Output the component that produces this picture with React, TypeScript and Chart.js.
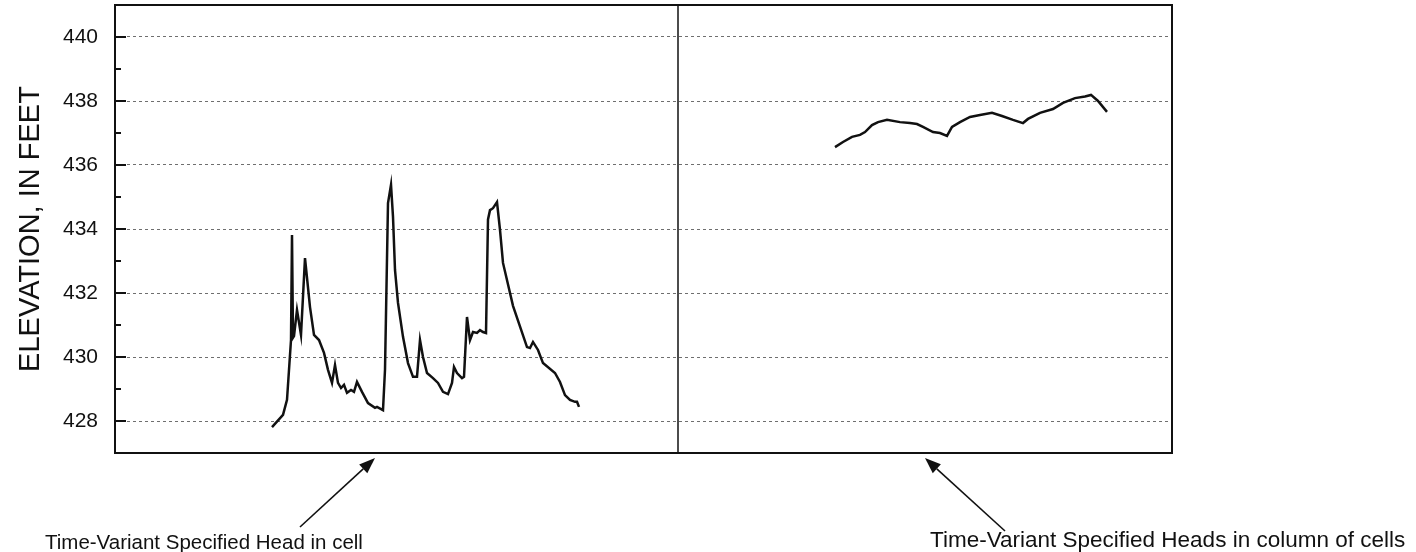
import React, { useEffect, useRef } from "react";
import { Chart, registerables } from "chart.js";

Chart.register(...registerables);

// Time (arbitrary time units along the horizontal axis) and head (feet)
const leftTime = [
  15.7, 16.8, 17.2, 17.6, 17.7, 17.8, 17.9, 18.2, 18.6, 19.0,
  19.5, 19.9, 20.4, 20.9, 21.3, 21.7, 22.0, 22.3, 22.6, 22.9,
  23.2, 23.6, 23.9, 24.2, 24.7, 25.3, 26.0, 26.2, 26.8, 27.0,
  27.3, 27.6, 27.8, 28.0, 28.3, 28.8, 29.3, 29.8, 30.2, 30.5,
  30.8, 31.2, 31.8, 32.3, 32.8, 33.3, 33.7, 33.9, 34.2, 34.7,
  34.9, 35.2, 35.5, 35.8, 36.2, 36.5, 36.8, 37.1, 37.3, 37.5,
  37.8, 38.2, 38.5, 38.8, 39.8, 41.2, 41.5, 41.8, 42.3, 42.8,
  44.0, 44.5, 45.0, 45.5, 46.0, 46.2, 46.4,
];
const leftHead = [
  427.81, 428.19, 428.66, 430.53, 433.81, 430.6, 430.65, 431.47, 430.69, 433.09,
  431.56, 430.69, 430.53, 430.13, 429.6, 429.19, 429.75, 429.19, 429.03, 429.13,
  428.88, 428.97, 428.91, 429.22, 428.91, 428.56, 428.41, 428.44, 428.34, 429.6,
  434.81, 435.38, 434.38, 432.72, 431.69, 430.63, 429.81, 429.38, 429.38, 430.53,
  430.0, 429.5, 429.34, 429.19, 428.91, 428.84, 429.19, 429.69, 429.5, 429.34,
  429.38, 431.25, 430.53, 430.78, 430.75, 430.84, 430.78, 430.75, 434.3, 434.59,
  434.65, 434.84, 433.97, 432.94, 431.6, 430.31, 430.28, 430.47, 430.22, 429.81,
  429.5, 429.22, 428.81, 428.66, 428.6, 428.6, 428.44,
];
const rightTime = [
  72.0, 72.8, 73.7, 74.5, 75.0, 75.7, 76.3, 77.2, 78.5, 79.5,
  80.2, 80.8, 81.8, 82.5, 83.2, 83.7, 84.5, 85.5, 86.5, 87.7,
  88.7, 89.8, 90.8, 91.3, 92.5, 93.8, 94.8, 96.0, 97.0, 97.6,
  98.3, 99.2,
];
const rightHead = [
  436.56, 436.72, 436.88, 436.94, 437.03, 437.25, 437.34, 437.41, 437.34, 437.31,
  437.28, 437.19, 437.03, 437.0, 436.91, 437.19, 437.34, 437.5, 437.56, 437.63,
  437.53, 437.41, 437.31, 437.44, 437.63, 437.75, 437.94, 438.09, 438.14, 438.19,
  438.0, 437.66,
];

const yTickValues = [428, 430, 432, 434, 436, 438, 440];
const yMinorTicks = [429, 431, 433, 435, 437, 439];
const yMin = 427;
const yMax = 441;
const timeMin = 0;
const timeMax = 105.7;
const panelSplit = 56.3;
const yTitle = "ELEVATION, IN FEET";
const leftNote = "Time-Variant Specified Head in cell";
const rightNote = "Time-Variant Specified Heads in column of cells";
const leftArrowTime = 26.0;
const rightArrowTime = 81.0;

const FONT = "'Liberation Sans', Arial, sans-serif";

function drawArrow(ctx: CanvasRenderingContext2D, fx: number, fy: number, tx: number, ty: number) {
  const ang = Math.atan2(ty - fy, tx - fx);
  const headLen = 16;
  const headW = 6;
  const bx = tx - Math.cos(ang) * headLen;
  const by = ty - Math.sin(ang) * headLen;
  ctx.beginPath();
  ctx.moveTo(fx, fy);
  ctx.lineTo(bx, by);
  ctx.lineWidth = 1.6;
  ctx.strokeStyle = "#111";
  ctx.stroke();
  ctx.beginPath();
  ctx.moveTo(tx, ty);
  ctx.lineTo(bx + Math.sin(ang) * headW, by - Math.cos(ang) * headW);
  ctx.lineTo(bx - Math.sin(ang) * headW, by + Math.cos(ang) * headW);
  ctx.closePath();
  ctx.fillStyle = "#111";
  ctx.fill();
}

const framePlugin = {
  id: "frame",
  afterDraw(chart: any) {
    const { ctx, chartArea: a, scales } = chart;
    const x = scales.x;
    const y = scales.y;
    ctx.save();
    ctx.strokeStyle = "#111";
    ctx.lineWidth = 2;
    ctx.strokeRect(a.left, a.top, a.right - a.left, a.bottom - a.top);
    const sx = x.getPixelForValue(panelSplit);
    ctx.lineWidth = 1.5;
    ctx.beginPath();
    ctx.moveTo(sx, a.top);
    ctx.lineTo(sx, a.bottom);
    ctx.stroke();
    ctx.lineWidth = 2;
    for (const v of yTickValues) {
      const py = y.getPixelForValue(v);
      ctx.beginPath();
      ctx.moveTo(a.left, py);
      ctx.lineTo(a.left + 11, py);
      ctx.stroke();
    }
    for (const v of yMinorTicks) {
      const py = y.getPixelForValue(v);
      ctx.beginPath();
      ctx.moveTo(a.left, py);
      ctx.lineTo(a.left + 6, py);
      ctx.stroke();
    }
    // annotations
    const lx = x.getPixelForValue(leftArrowTime);
    const rx = x.getPixelForValue(rightArrowTime);
    const tipY = a.bottom + 5;
    drawArrow(ctx, lx - 75, tipY + 69, lx, tipY);
    drawArrow(ctx, rx + 80, tipY + 73, rx, tipY);
    ctx.fillStyle = "#111";
    ctx.textBaseline = "alphabetic";
    ctx.textAlign = "left";
    ctx.font = `20.5px ${FONT}`;
    ctx.fillText(leftNote, 45, 549);
    ctx.font = `22.5px ${FONT}`;
    ctx.fillText(rightNote, 930, 547);
    ctx.restore();
  },
};

export default function App() {
  const ref = useRef<HTMLCanvasElement | null>(null);
  useEffect(() => {
    if (!ref.current) return;
    const chart = new Chart(ref.current, {
      type: "line",
      data: {
        datasets: [
          {
            label: "cell",
            data: leftTime.map((t, i) => ({ x: t, y: leftHead[i] })),
            borderColor: "#111",
            borderWidth: 2.5,
            pointRadius: 0,
            tension: 0,
            fill: false,
          },
          {
            label: "column of cells",
            data: rightTime.map((t, i) => ({ x: t, y: rightHead[i] })),
            borderColor: "#111",
            borderWidth: 2.5,
            pointRadius: 0,
            tension: 0,
            fill: false,
          },
        ],
      },
      options: {
        animation: false,
        responsive: false,
        maintainAspectRatio: false,
        layout: { padding: { left: 0, top: 5, right: 244, bottom: 99 } },
        plugins: { legend: { display: false }, tooltip: { enabled: false } },
        scales: {
          x: {
            type: "linear",
            min: timeMin,
            max: timeMax,
            display: false,
          },
          y: {
            type: "linear",
            min: yMin,
            max: yMax,
            afterBuildTicks: (scale: any) => {
              scale.ticks = yTickValues.map((v) => ({ value: v }));
            },
            afterFit: (scale: any) => {
              scale.width = 115;
              scale.paddingTop = 0;
              scale.paddingBottom = 0;
            },
            border: { display: false, dash: [3, 3] },
            grid: {
              color: "#6f6f6f",
              lineWidth: 1,
              drawTicks: false,
            },
            ticks: {
              padding: 17,
              color: "#111",
              font: { family: FONT, size: 21 },
              callback: (v: any) => String(v),
            },
            title: {
              display: true,
              text: yTitle,
              color: "#111",
              font: { family: FONT, size: 29 },
              padding: { top: 14, bottom: 4 },
            },
          },
        },
      },
      plugins: [framePlugin],
    });
    return () => chart.destroy();
  }, []);
  return (
    <div style={{ position: "fixed", left: 0, top: 0, width: 1416, height: 552, background: "#fff" }}>
      <canvas ref={ref} width={1416} height={552} style={{ display: "block" }} />
    </div>
  );
}
